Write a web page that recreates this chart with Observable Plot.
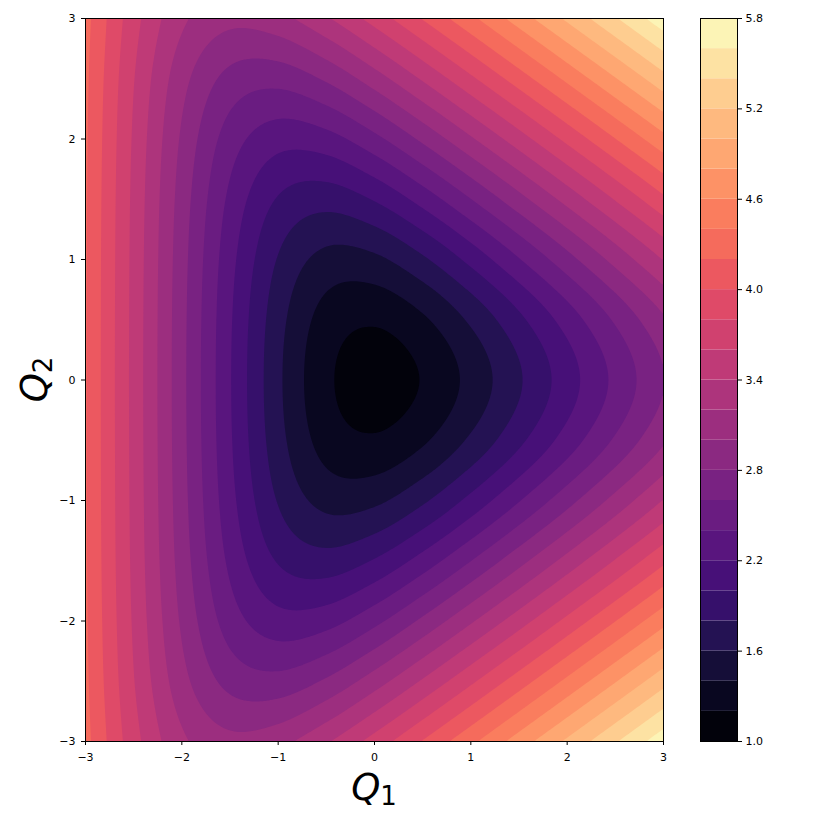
<!DOCTYPE html>
<html>
<head>
<meta charset="utf-8">
<script src="https://cdn.jsdelivr.net/npm/d3@7"></script>
<script src="https://cdn.jsdelivr.net/npm/@observablehq/plot@0.6"></script>
<style>
html, body { margin: 0; padding: 0; background: #fff; }
#wrap { position: relative; width: 822px; height: 822px; overflow: hidden; }
#main { position: absolute; left: 0; top: 0; }
#cbar { position: absolute; left: 680px; top: 0; }
</style>
</head>
<body>
<div id="wrap"><div id="main"></div><div id="cbar"></div></div>
<script>
// Grid columns (Q1) and rows (Q2, top to bottom)
const q1 = [-3, -2.5, -2, -1.5, -1, -0.5, 0, 0.5, 1, 1.5, 2, 2.5, 3];
const q2 = [3, 2.5, 2, 1.5, 1, 0.5, 0, -0.5, -1, -1.5, -2, -2.5, -3];

// Surface values at each grid node
const energy = [
  [4.267, 3.679, 3.243, 3.061, 3.138, 3.375, 3.682, 4.013, 4.352, 4.695, 5.038, 5.381, 5.725],
  [4.243, 3.610, 3.073, 2.735, 2.671, 2.830, 3.104, 3.424, 3.760, 4.101, 4.444, 4.787, 5.131],
  [4.230, 3.572, 2.970, 2.504, 2.280, 2.323, 2.543, 2.843, 3.172, 3.510, 3.853, 4.196, 4.539],
  [4.223, 3.551, 2.911, 2.356, 1.984, 1.882, 2.017, 2.280, 2.596, 2.931, 3.271, 3.614, 3.958],
  [4.219, 3.541, 2.880, 2.270, 1.786, 1.536, 1.557, 1.765, 2.060, 2.387, 2.725, 3.067, 3.410],
  [4.218, 3.536, 2.865, 2.227, 1.677, 1.316, 1.226, 1.369, 1.636, 1.953, 2.288, 2.629, 2.972],
  [4.217, 3.534, 2.861, 2.215, 1.643, 1.241, 1.102, 1.212, 1.464, 1.776, 2.109, 2.449, 2.792],
  [4.218, 3.536, 2.865, 2.227, 1.677, 1.316, 1.226, 1.369, 1.636, 1.953, 2.288, 2.629, 2.972],
  [4.219, 3.541, 2.880, 2.270, 1.786, 1.536, 1.557, 1.765, 2.060, 2.387, 2.725, 3.067, 3.410],
  [4.223, 3.551, 2.911, 2.356, 1.984, 1.882, 2.017, 2.280, 2.596, 2.931, 3.271, 3.614, 3.958],
  [4.230, 3.572, 2.970, 2.504, 2.280, 2.323, 2.543, 2.843, 3.172, 3.510, 3.853, 4.196, 4.539],
  [4.243, 3.610, 3.073, 2.735, 2.671, 2.830, 3.104, 3.424, 3.760, 4.101, 4.444, 4.787, 5.131],
  [4.267, 3.679, 3.243, 3.061, 3.138, 3.375, 3.682, 4.013, 4.352, 4.695, 5.038, 5.381, 5.725]
];

// Contour levels and tick labels
const levels = [1.0, 1.2, 1.4, 1.6, 1.8, 2.0, 2.2, 2.4, 2.6, 2.8, 3.0, 3.2, 3.4, 3.6, 3.8, 4.0, 4.2, 4.4, 4.6, 4.8, 5.0, 5.2, 5.4, 5.6, 5.8];
const axisTicks = [-3, -2, -1, 0, 1, 2, 3];
const colorbarTicks = [1.0, 1.6, 2.2, 2.8, 3.4, 4.0, 4.6, 5.2, 5.8];

// Build point table
const pts = [];
q2.forEach((y, r) => q1.forEach((x, c) => pts.push({q1: x, q2: y, v: energy[r][c]})));

// Smooth (Catmull-Rom bicubic) resampling of the read grid for Plot.contour
function bicubic(index, w, h, X, Y, V) {
  const nc = q1.length, nr = q2.length;
  const gx0 = X[0], gx1 = X[nc - 1];
  const gy0 = Y[0], gy1 = Y[(nr - 1) * nc];
  const val = (r, c) => {
    if (c < 0) return 2 * val(r, 0) - val(r, 1);
    if (c > nc - 1) return 2 * val(r, nc - 1) - val(r, nc - 2);
    if (r < 0) return 2 * val(0, c) - val(1, c);
    if (r > nr - 1) return 2 * val(nr - 1, c) - val(nr - 2, c);
    return V[r * nc + c];
  };
  const cr = (p0, p1, p2, p3, t) =>
    p1 + 0.5 * t * (p2 - p0 + t * (2 * p0 - 5 * p1 + 4 * p2 - p3 + t * (3 * (p1 - p2) + p3 - p0)));
  const out = new Float64Array(w * h);
  for (let j = 0; j < h; j++) {
    let v = (j + 0.5 - gy0) / (gy1 - gy0) * (nr - 1);
    v = Math.max(0, Math.min(nr - 1, v));
    const r = Math.min(nr - 2, Math.floor(v)), tv = v - r;
    for (let i = 0; i < w; i++) {
      let u = (i + 0.5 - gx0) / (gx1 - gx0) * (nc - 1);
      u = Math.max(0, Math.min(nc - 1, u));
      const c = Math.min(nc - 2, Math.floor(u)), tu = u - c;
      const a = [];
      for (let dr = -1; dr <= 2; dr++) {
        const rr = r + dr;
        a.push(cr(val(rr, c - 1), val(rr, c), val(rr, c + 1), val(rr, c + 2), tu));
      }
      out[j * w + i] = cr(a[0], a[1], a[2], a[3], tv);
    }
  }
  return out;
}

const colorScale = {type: "linear", domain: [0.9, 5.7], scheme: "magma"};
const fmt = d => d < 0 ? "\u2212" + Math.abs(d) : String(d);
const style = {fontFamily: "'DejaVu Sans', sans-serif", fontSize: "11px", color: "black", background: "white", overflow: "visible"};

const main = Plot.plot({
  width: 680, height: 822,
  marginLeft: 85, marginRight: 17, marginTop: 18, marginBottom: 81,
  style,
  x: {domain: [-3, 3], label: null},
  y: {domain: [-3, 3], label: null},
  color: colorScale,
  marks: [
    Plot.contour(pts, {x: "q1", y: "q2", fill: "v", thresholds: levels, interpolate: bicubic, stroke: "none"}),
    Plot.frame({stroke: "black", strokeWidth: 1}),
    Plot.axisX({ticks: axisTicks, tickFormat: fmt, tickSize: 4, tickPadding: 8, label: null}),
    Plot.axisY({ticks: axisTicks, tickFormat: fmt, tickSize: 4, tickPadding: 6, label: null})
  ]
});
document.getElementById("main").appendChild(main);

// Axis titles (math-style Q with subscripts)
const sx = main.scale("x"), sy = main.scale("y");
const svgMain = d3.select(main);
const t1 = svgMain.append("text")
  .attr("x", sx.apply(0)).attr("y", 800)
  .attr("text-anchor", "middle")
  .attr("font-family", "'DejaVu Sans', sans-serif")
  .attr("font-size", 37).attr("fill", "black");
t1.append("tspan").attr("font-style", "italic").text("Q");
t1.append("tspan").attr("font-size", 26).attr("dy", 5).text("1");

const t2 = svgMain.append("text")
  .attr("transform", `translate(47,${sy.apply(0)}) rotate(-90)`)
  .attr("text-anchor", "middle")
  .attr("font-family", "'DejaVu Sans', sans-serif")
  .attr("font-size", 37).attr("fill", "black");
t2.append("tspan").attr("font-style", "italic").text("Q");
t2.append("tspan").attr("font-size", 26).attr("dy", 5).text("2");

// Colorbar
const bands = levels.slice(0, -1).map((lo, i) => ({lo, hi: levels[i + 1]}));
const cbar = Plot.plot({
  width: 142, height: 822,
  marginLeft: 20, marginRight: 85, marginTop: 18, marginBottom: 81,
  style,
  x: {domain: [0, 1], axis: null},
  y: {domain: [1.0, 5.8], label: null},
  color: colorScale,
  marks: [
    Plot.rect(bands, {x1: 0, x2: 1, y1: "lo", y2: "hi", fill: "lo"}),
    Plot.frame({stroke: "black", strokeWidth: 1}),
    Plot.axisY({anchor: "right", ticks: colorbarTicks, tickFormat: d => d.toFixed(1), tickSize: 4, tickPadding: 4, label: null})
  ]
});
document.getElementById("cbar").appendChild(cbar);
</script>
</body>
</html>
